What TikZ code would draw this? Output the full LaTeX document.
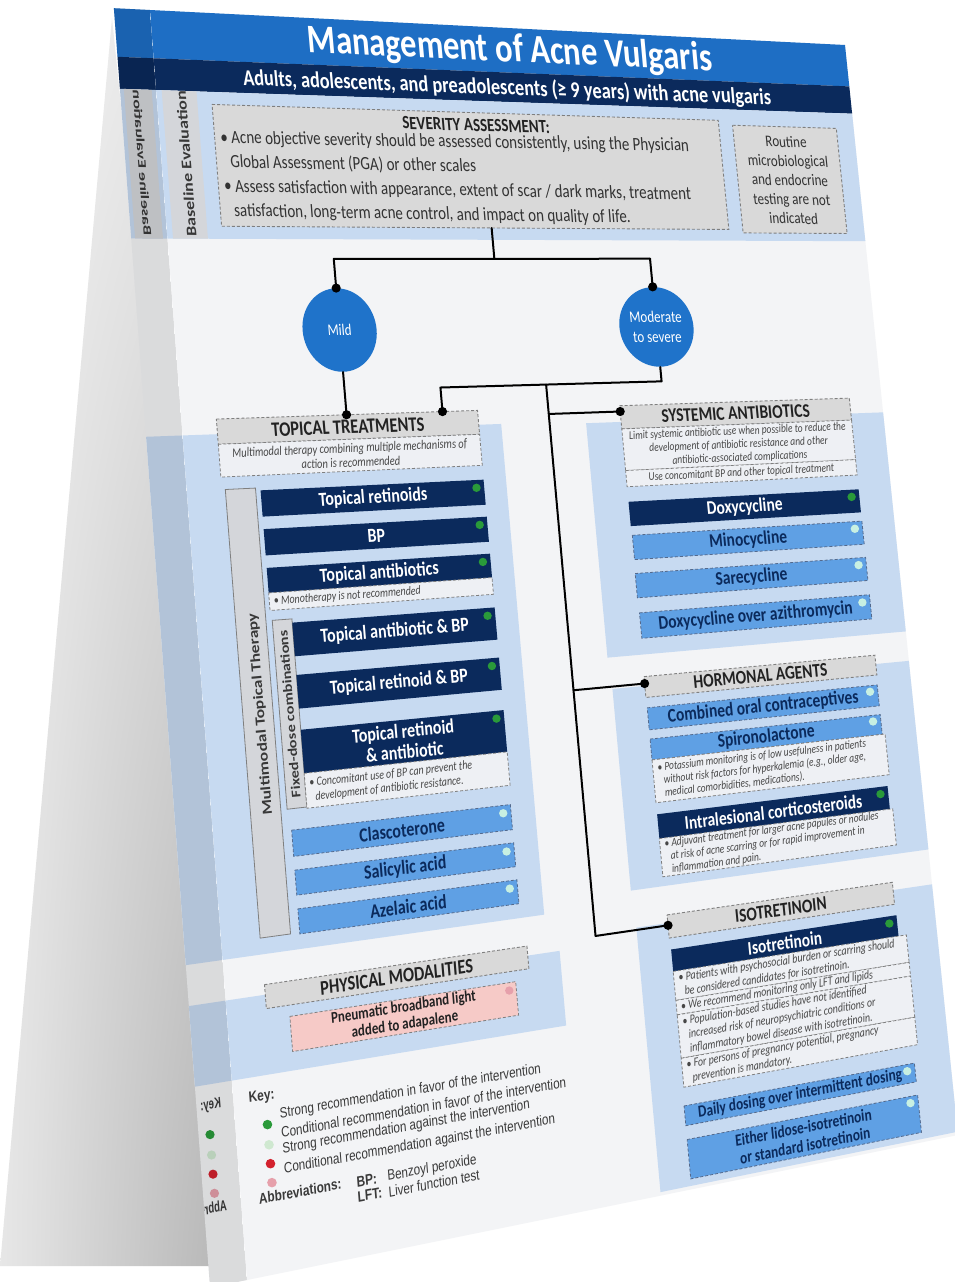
\documentclass[tikz,border=0pt]{standalone}
\usepackage{fontspec}
\setmainfont{Carlito}
\newfontfamily\keyfont{Liberation Sans}
\usetikzlibrary{shapes.geometric}
\definecolor{bblue}{HTML}{1E6EC4}
\definecolor{cblue}{HTML}{1F73CA}
\definecolor{navy}{HTML}{0B2A5C}
\definecolor{lpanel}{HTML}{C7DAF1}
\definecolor{lbox}{HTML}{5FA0E4}
\definecolor{hgrey}{HTML}{D9D9D9}
\definecolor{sgrey}{HTML}{D4D6DA}
\definecolor{bgrey}{HTML}{7F7F7F}
\definecolor{notef}{HTML}{EEF0F4}
\definecolor{cardf}{HTML}{F3F4F6}
\definecolor{dgreen}{HTML}{2A9A3A}
\definecolor{lgreen}{HTML}{C8F0E2}
\definecolor{kgreen}{HTML}{CFE8D0}
\definecolor{kred}{HTML}{D3212D}
\definecolor{kpink}{HTML}{E6A0AB}
\definecolor{pinkf}{HTML}{F6CAC7}
\definecolor{txtd}{HTML}{222222}
\definecolor{keyc}{HTML}{3A3A3A}

\pgfdeclareradialshading{cardshadow}{\pgfpoint{45bp}{-41bp}}{color(0bp)=(black!38); color(22bp)=(black!27); color(48bp)=(black!12); color(72bp)=(white); color(140bp)=(white)}

\makeatletter
\tikzdeclarecoordinatesystem{card}{\card@parse#1\@nil}
\def\card@parse#1,#2\@nil{%
  \pgfmathsetmacro\card@u{#1}%
  \pgfmathsetmacro\card@v{#2}%
  \pgfmathsetmacro\card@x{(1-\card@v)*(150+695*\card@u)+\card@v*(247+711*\card@u)}%
  \pgfmathsetmacro\card@y{-((1-\card@v)*(10+35*\card@u)+\card@v*(1280-145*\card@u))}%
  \pgfpoint{\card@x pt}{\card@y pt}}
\tikzdeclarecoordinatesystem{flap}{\flap@parse#1\@nil}
\def\flap@parse#1,#2\@nil{%
  \pgfmathsetmacro\card@u{#1}%
  \pgfmathsetmacro\card@v{#2}%
  \pgfmathsetmacro\card@x{(1-\card@v)*(150-556*\card@u)+\card@v*(247-568.8*\card@u)}%
  \pgfmathsetmacro\card@y{-((1-\card@v)*(10-28*\card@u)+\card@v*(1280+116*\card@u))}%
  \pgfpoint{\card@x pt}{\card@y pt}}
\makeatother

\newcommand\dirs[2]{%
  \pgfmathsetmacro\dA{6.95+0.16*(#2)}%
  \pgfmathsetmacro\dB{1.8*(#2)-0.35}%
  \pgfmathsetmacro\dL{sqrt((\dA)*(\dA)+(\dB)*(\dB))}%
  \pgfmathsetmacro\dA{(\dA)/(\dL)}%
  \pgfmathsetmacro\dB{(\dB)/(\dL)}%
  \pgfmathsetmacro\dC{-(0.97+0.16*(#1))}%
  \pgfmathsetmacro\dD{12.7-1.8*(#1)}%
  \pgfmathsetmacro\dL{sqrt((\dC)*(\dC)+(\dD)*(\dD))}%
  \pgfmathsetmacro\dC{1.25*(\dC)/(\dL)}%
  \pgfmathsetmacro\dD{1.25*(\dD)/(\dL)}%
  \pgfmathsetmacro\nA{(-1)*(\dA)}%
  \pgfmathsetmacro\nB{(-1)*(\dB)}%
  \pgfmathsetmacro\mA{(-0.8)*(\dA)}%
  \pgfmathsetmacro\mB{(-0.8)*(\dB)}%
  \pgfmathsetmacro\kA{0.8*(\dA)}%
  \pgfmathsetmacro\kB{0.8*(\dB)}}
\newcommand\ctext[5][]{\dirs{#3}{#4}\node[cm={\dA,\dB,\dC,\dD,(0,0)},inner sep=0pt,#1] (#2) at (card cs:#3,#4) {#5};}
\newcommand\cvtext[5][]{\dirs{#3}{#4}\node[cm={\dC,\dD,\nA,\nB,(0,0)},inner sep=0pt,#1] (#2) at (card cs:#3,#4) {#5};}
\newcommand\ftext[5][]{\dirs{#3}{#4}\node[cm={\mA,\mB,\dC,\dD,(0,0)},inner sep=0pt,#1] (#2) at (flap cs:#3,#4) {#5};}
\newcommand\fvtext[5][]{\dirs{#3}{#4}\node[cm={\dC,\dD,\kA,\kB,(0,0)},inner sep=0pt,#1] (#2) at (flap cs:#3,#4) {#5};}
\newcommand\cbox[5]{\path[#1] (card cs:#2,#3) -- (card cs:#4,#3) -- (card cs:#4,#5) -- (card cs:#2,#5) -- cycle;}
\newcommand\flbox[5]{\path[#1] (flap cs:#2,#3) -- (flap cs:#4,#3) -- (flap cs:#4,#5) -- (flap cs:#2,#5) -- cycle;}
\newcommand\tbox[8]{\cbox{#1}{#4}{#5}{#6}{#7}\pgfmathsetmacro\tbU{(#4+#6)/2}\pgfmathsetmacro\tbV{(#5+#7)/2}\ctext[#2]{#3}{\tbU}{\tbV}{#8}}
\newcommand\kdot[3]{\fill[#1] (card cs:#2,#3) circle[radius=4.2pt];}

\tikzset{
  hdrb/.style={fill=hgrey, draw=bgrey, line width=0.9pt, dash pattern=on 3pt off 2pt},
  noteb/.style={fill=notef, draw=bgrey, line width=0.8pt, dash pattern=on 3pt off 2pt},
  nvb/.style={fill=navy},
  lbb/.style={fill=lbox, draw=navy!70, line width=0.8pt, dash pattern=on 3pt off 2pt},
  pkb/.style={fill=pinkf, draw=bgrey, line width=0.8pt, dash pattern=on 3pt off 2pt},
  stripb/.style={fill=sgrey, draw=bgrey, line width=0.8pt},
  panel/.style={fill=lpanel},
  conn/.style={draw=black, line width=2pt, line cap=round, line join=round},
  hdrt/.style={font=\fontsize{15.5}{17}\selectfont\bfseries, text=txtd},
  hdrtb/.style={font=\fontsize{16.5}{18}\selectfont\bfseries, text=txtd},
  nvt/.style={font=\fontsize{16}{16.5}\selectfont\bfseries, text=white, align=center},
  nvt15/.style={font=\fontsize{15.5}{16}\selectfont\bfseries, text=white, align=center},
  lbt/.style={font=\fontsize{16}{16.5}\selectfont\bfseries, text=navy, align=center},
  lbt15/.style={font=\fontsize{15.5}{16}\selectfont\bfseries, text=navy, align=center},
  lbt13/.style={font=\fontsize{13.5}{14.5}\selectfont\bfseries, text=navy, align=center},
  ntt/.style={font=\fontsize{10}{11.2}\selectfont\itshape, text=black!72, align=left},
  ntts/.style={font=\fontsize{9.5}{10.3}\selectfont\itshape, text=black!72, align=left},
  nct/.style={font=\fontsize{9.5}{10.6}\selectfont\itshape, text=black!72, align=center},
  vtt/.style={font=\fontsize{14}{16}\selectfont\bfseries, text=black!78},
  keyt/.style={font=\keyfont\fontsize{11.8}{14}\selectfont, text=keyc},
  keyb/.style={font=\keyfont\fontsize{12}{14}\selectfont\bfseries, text=keyc},
}

\begin{document}
\begin{tikzpicture}[x=1pt,y=1pt]
\path[use as bounding box, fill=white] (0,0) rectangle (955,-1282);
% shadow of the tent card
\shade[shading=cardshadow] (112,-18) -- (240,-1266) -- (0,-1266) -- cycle;
% side flap (mirrored back page)
\begin{scope}
\clip (flap cs:0,0) -- (flap cs:0.065,0) -- (flap cs:0.065,1) -- (flap cs:0,1) -- cycle;
\flbox{fill=cardf}{0}{0}{0.065}{1}
\flbox{fill=bblue}{0}{0}{0.065}{0.038}
\flbox{fill=navy}{0}{0.038}{0.065}{0.063}
\flbox{fill=lpanel}{0}{0.063}{0.065}{0.18}
\flbox{fill=sgrey}{0.008}{0.063}{0.058}{0.18}
\flbox{fill=lpanel}{0}{0.335}{0.065}{0.748}
\flbox{fill=lpanel}{0}{0.78}{0.065}{0.843}
\fvtext[vtt, font=\fontsize{14.5}{16}\selectfont\bfseries]{fbase}{0.035}{0.1205}{Baseline Evaluation}
\ftext[keyb]{fkey}{0.040}{0.8597}{Key:}
\fill[dgreen] (flap cs:0.045,0.882) circle[radius=4.6pt];
\fill[kgreen] (flap cs:0.045,0.898) circle[radius=4.6pt];
\fill[kred] (flap cs:0.045,0.913) circle[radius=4.6pt];
\fill[kpink] (flap cs:0.045,0.928) circle[radius=4.6pt];
\ftext[keyb, anchor=east]{fabb}{0.1417}{0.939}{Abbreviations:}
\fill[black, opacity=0.10] (flap cs:0,0) -- (flap cs:0.065,0) -- (flap cs:0.065,1) -- (flap cs:0,1) -- cycle;
\end{scope}
% card face
\cbox{fill=cardf}{0}{0}{1}{1}
\cbox{fill=bblue}{0}{0}{1}{0.038}
\cbox{fill=navy}{0}{0.038}{1}{0.063}
\cbox{panel}{0}{0.063}{1}{0.18}
\cbox{fill=sgrey}{0.008}{0.063}{0.058}{0.18}
\cbox{panel}{0}{0.335}{0.455}{0.748}
\cbox{panel}{0}{0.780}{0.472}{0.843}
\cbox{panel}{0.576}{0.337}{1}{0.538}
\cbox{panel}{0.579}{0.565}{1}{0.738}
\cbox{panel}{0.582}{0.770}{1}{0.997}
% header texts
\ctext[font=\fontsize{32.5}{35}\selectfont\bfseries, text=white]{title}{0.515}{0.0195}{Management of Acne Vulgaris}
\ctext[font=\fontsize{18.3}{20}\selectfont\bfseries, text=white]{subtitle}{0.506}{0.0515}{Adults, adolescents, and preadolescents (≥ 9 years) with acne vulgaris}
\cvtext[vtt, font=\fontsize{14.5}{16}\selectfont\bfseries]{base}{0.035}{0.1205}{Baseline Evaluation}
% baseline evaluation
\cbox{hdrb}{0.079}{0.073}{0.806}{0.170}
\ctext[font=\fontsize{15}{17}\selectfont\bfseries, text=txtd]{sevh}{0.4565}{0.0834}{SEVERITY ASSESSMENT:}
\ctext[anchor=west, font=\fontsize{15}{19.5}\selectfont, text=black!80, align=left]{sevb}{0.087}{0.129}{\textbullet\ Acne objective severity should be assessed consistently, using the Physician\\\hspace*{8pt}Global Assessment (PGA) or other scales\\\textbullet\ Assess satisfaction with appearance, extent of scar / dark marks, treatment\\\hspace*{8pt}satisfaction, long-term acne control, and impact on quality of life.}
\tbox{hdrb}{font=\fontsize{13}{15.4}\selectfont, text=black!80, align=center}{rout}{0.826}{0.077}{0.975}{0.173}{Routine\\microbiological\\and endocrine\\testing are not\\indicated}
% severity circles
\dirs{0.236}{0.254}
\node[ellipse, fill=cblue, minimum width=74pt, minimum height=67pt, inner sep=0pt, cm={\dA,\dB,\dC,\dD,(0,0)}, text=white, font=\fontsize{13}{16}\selectfont] (mild) at (card cs:0.236,0.254) {Mild};
\dirs{0.689}{0.2555}
\node[ellipse, fill=cblue, minimum width=66pt, minimum height=64pt, inner sep=0pt, cm={\dA,\dB,\dC,\dD,(0,0)}, text=white, font=\fontsize{13}{16}\selectfont, align=center] (mod) at (card cs:0.689,0.2555) {Moderate\\to severe};
% topical treatments
\tbox{hdrb}{hdrtb}{tth}{0.050}{0.323}{0.423}{0.343}{TOPICAL TREATMENTS}
\tbox{noteb}{ntt, align=center, font=\fontsize{10.5}{11.5}\selectfont\itshape}{ttn}{0.050}{0.343}{0.423}{0.369}{Multimodal therapy combining multiple mechanisms of\\action is recommended}
\cbox{stripb}{0.055}{0.379}{0.098}{0.735}
\cvtext[vtt]{mmt}{0.080}{0.5585}{Multimodal Topical Therapy}
\tbox{nvb}{nvt}{tret}{0.105}{0.381}{0.423}{0.402}{Topical retinoids}
\kdot{dgreen}{0.412}{0.3875}
\tbox{nvb}{nvt}{bp}{0.105}{0.412}{0.423}{0.433}{BP}
\kdot{dgreen}{0.412}{0.4185}
\tbox{nvb}{nvt}{tabx}{0.105}{0.443}{0.423}{0.463}{Topical antibiotics}
\kdot{dgreen}{0.412}{0.4495}
\cbox{noteb}{0.105}{0.463}{0.423}{0.477}
\ctext[ntt, anchor=west]{monon}{0.111}{0.470}{\textbullet\ Monotherapy is not recommended}
\cbox{stripb}{0.107}{0.485}{0.135}{0.636}
\cvtext[vtt, font=\fontsize{13}{15}\selectfont\bfseries]{fdt}{0.121}{0.5605}{Fixed-dose combinations}
\tbox{nvb}{nvt}{tabp}{0.135}{0.488}{0.423}{0.515}{Topical antibiotic \& BP}
\kdot{dgreen}{0.412}{0.4945}
\tbox{nvb}{nvt}{trbp}{0.135}{0.530}{0.423}{0.557}{Topical retinoid \& BP}
\kdot{dgreen}{0.412}{0.5365}
\tbox{nvb}{nvt}{tran}{0.135}{0.574}{0.423}{0.609}{Topical retinoid\\\& antibiotic}
\kdot{dgreen}{0.412}{0.5805}
\cbox{noteb}{0.135}{0.609}{0.423}{0.637}
\ctext[ntt, anchor=west]{trann}{0.141}{0.623}{\textbullet\ Concomitant use of BP can prevent the\\\hspace*{5pt}development of antibiotic resistance.}
\tbox{lbb}{lbt}{clas}{0.111}{0.653}{0.421}{0.674}{Clascoterone}
\kdot{lgreen}{0.410}{0.6595}
\tbox{lbb}{lbt}{sali}{0.111}{0.685}{0.421}{0.705}{Salicylic acid}
\kdot{lgreen}{0.410}{0.6915}
\tbox{lbb}{lbt}{azel}{0.111}{0.716}{0.421}{0.736}{Azelaic acid}
\kdot{lgreen}{0.410}{0.7225}
% physical modalities
\tbox{hdrb}{hdrtb}{pmh}{0.056}{0.772}{0.427}{0.791}{PHYSICAL MODALITIES}
\tbox{pkb}{font=\fontsize{13}{14}\selectfont\bfseries, text=txtd, align=center}{pmb}{0.088}{0.800}{0.407}{0.828}{Pneumatic broadband light\\added to adapalene}
\kdot{kpink}{0.397}{0.8065}
% systemic antibiotics
\tbox{hdrb}{hdrt}{sah}{0.626}{0.323}{0.954}{0.343}{SYSTEMIC ANTIBIOTICS}
\tbox{noteb}{nct}{san1}{0.626}{0.343}{0.954}{0.379}{Limit systemic antibiotic use when possible to reduce the\\development of antibiotic resistance and other\\antibiotic-associated complications}
\tbox{noteb}{nct}{san2}{0.626}{0.379}{0.954}{0.393}{Use concomitant BP and other topical treatment}
\tbox{nvb}{nvt15}{doxy}{0.626}{0.406}{0.954}{0.427}{Doxycycline}
\kdot{dgreen}{0.943}{0.4125}
\tbox{lbb}{lbt15}{mino}{0.627}{0.435}{0.954}{0.456}{Minocycline}
\kdot{lgreen}{0.943}{0.4415}
\tbox{lbb}{lbt15}{sare}{0.626}{0.468}{0.954}{0.489}{Sarecycline}
\kdot{lgreen}{0.943}{0.4745}
\tbox{lbb}{lbt15}{doaz}{0.627}{0.502}{0.954}{0.524}{Doxycycline over azithromycin}
\kdot{lgreen}{0.943}{0.5085}
% hormonal agents
\tbox{hdrb}{hdrt}{hah}{0.625}{0.557}{0.953}{0.575}{HORMONAL AGENTS}
\tbox{lbb}{lbt15}{coc}{0.6255}{0.584}{0.952}{0.603}{Combined oral contraceptives}
\kdot{lgreen}{0.941}{0.5895}
\tbox{lbb}{lbt15}{spir}{0.6255}{0.611}{0.952}{0.629}{Spironolactone}
\kdot{lgreen}{0.941}{0.6165}
\cbox{noteb}{0.6255}{0.629}{0.956}{0.666}
\ctext[ntts, anchor=west]{spirn}{0.632}{0.6475}{\textbullet\ Potassium monitoring is of low usefulness in patients\\\hspace*{5pt}without risk factors for hyperkalemia (e.g., older age,\\\hspace*{5pt}medical comorbidities, medications).}
\tbox{nvb}{nvt15}{ilc}{0.6256}{0.676}{0.952}{0.697}{Intralesional corticosteroids}
\kdot{dgreen}{0.941}{0.6825}
\cbox{noteb}{0.6256}{0.697}{0.956}{0.730}
\ctext[ntts, anchor=west]{ilcn}{0.632}{0.7135}{\textbullet\ Adjuvant treatment for larger acne papules or nodules\\\hspace*{5pt}at risk of acne scarring or for rapid improvement in\\\hspace*{5pt}inflammation and pain.}
% isotretinoin
\tbox{hdrb}{hdrt}{ish}{0.6265}{0.763}{0.945}{0.783}{ISOTRETINOIN}
\tbox{nvb}{nvt15}{iso}{0.6277}{0.793}{0.946}{0.812}{Isotretinoin}
\kdot{dgreen}{0.935}{0.7995}
\cbox{noteb}{0.6277}{0.812}{0.957}{0.837}
\cbox{noteb}{0.6277}{0.837}{0.957}{0.8495}
\cbox{noteb}{0.6277}{0.8495}{0.957}{0.887}
\cbox{noteb}{0.6277}{0.887}{0.957}{0.912}
\ctext[ntt, anchor=west]{isn1}{0.634}{0.8245}{\textbullet\ Patients with psychosocial burden or scarring should\\\hspace*{5pt}be considered candidates for isotretinoin.}
\ctext[ntt, anchor=west]{isn2}{0.634}{0.84325}{\textbullet\ We recommend monitoring only LFT and lipids}
\ctext[ntt, anchor=west]{isn3}{0.634}{0.86825}{\textbullet\ Population-based studies have not identified\\\hspace*{5pt}increased risk of neuropsychiatric conditions or\\\hspace*{5pt}inflammatory bowel disease with isotretinoin.}
\ctext[ntt, anchor=west]{isn4}{0.634}{0.8995}{\textbullet\ For persons of pregnancy potential, pregnancy\\\hspace*{5pt}prevention is mandatory.}
\tbox{lbb}{lbt13}{dly}{0.6255}{0.928}{0.950}{0.945}{Daily dosing over intermittent dosing}
\kdot{lgreen}{0.939}{0.934}
\tbox{lbb}{lbt13}{eith}{0.6255}{0.957}{0.950}{0.991}{Either lidose-isotretinoin\\or standard isotretinoin}
\kdot{lgreen}{0.939}{0.963}
% key
\ctext[keyb]{key}{0.040}{0.8597}{Key:}
\fill[dgreen] (card cs:0.045,0.882) circle[radius=4.8pt];
\fill[kgreen] (card cs:0.045,0.898) circle[radius=4.8pt];
\fill[kred] (card cs:0.045,0.913) circle[radius=4.8pt];
\fill[kpink] (card cs:0.045,0.928) circle[radius=4.8pt];
\ctext[keyt, anchor=west]{k1}{0.063}{0.8756}{Strong recommendation in favor of the intervention}
\ctext[keyt, anchor=west]{k2}{0.063}{0.890}{Conditional recommendation in favor of the intervention}
\ctext[keyt, anchor=west]{k3}{0.063}{0.9035}{Strong recommendation against the intervention}
\ctext[keyt, anchor=west]{k4}{0.063}{0.9195}{Conditional recommendation against the intervention}
\ctext[keyb, anchor=east]{abb}{0.1417}{0.939}{Abbreviations:}
\ctext[keyb, anchor=west]{bpk}{0.1623}{0.940}{BP:}
\ctext[keyb, anchor=west]{lftk}{0.1623}{0.952}{LFT:}
\ctext[keyt, anchor=west]{bpv}{0.2057}{0.9406}{Benzoyl peroxide}
\ctext[keyt, anchor=west]{lftv}{0.2057}{0.9528}{Liver function test}
% connectors
\coordinate (sevbot) at (card cs:0.466,0.170);
\coordinate (jc) at (card cs:0.466,0.196);
\coordinate (jl) at (card cs:0.236,0.196);
\coordinate (jr) at (card cs:0.689,0.196);
\draw[conn] (sevbot) -- (jc);
\draw[conn] (jl) -- (jr);
\draw[conn] (jl) -- (mild.north);
\draw[conn] (jr) -- (mod.north);
\coordinate (tt1) at (card cs:0.236,0.323);
\draw[conn] (mild.south) -- (tt1);
\coordinate (m1) at (card cs:0.689,0.303);
\coordinate (m2) at (card cs:0.373,0.303);
\coordinate (tt2) at (card cs:0.373,0.323);
\draw[conn] (mod.south) -- (m1) -- (m2) -- (tt2);
\coordinate (t0) at (card cs:0.524,0.303);
\coordinate (t1) at (card cs:0.524,0.328);
\coordinate (t2) at (card cs:0.524,0.563);
\coordinate (t3) at (card cs:0.524,0.772);
\coordinate (sa) at (card cs:0.626,0.328);
\coordinate (ha) at (card cs:0.625,0.563);
\coordinate (ia) at (card cs:0.6265,0.772);
\draw[conn] (t0) -- (t3) -- (ia);
\draw[conn] (t1) -- (sa);
\draw[conn] (t2) -- (ha);
\foreach \p in {mild.north, mod.north, tt1, tt2, sa, ha, ia} \fill (\p) circle[radius=4.6pt];
\end{tikzpicture}
\end{document}
